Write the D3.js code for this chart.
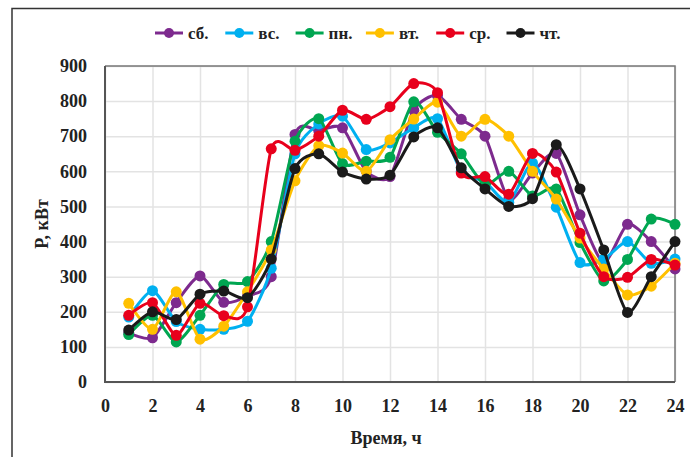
<!DOCTYPE html>
<html>
<head>
<meta charset="utf-8">
<script src="https://cdn.jsdelivr.net/npm/d3@7"></script>
<style>
  body { margin: 0; background: #fff; }
  text { font-family: "Liberation Serif", "Times New Roman", serif; font-weight: bold; fill: #222; }
</style>
</head>
<body>
<svg id="chart"></svg>
<script>
// hours of the day
const hours = d3.range(1, 25);

// power, kW, by day of week
const sat = [140,126,226,302,227,245,300,705,716,724,600,585,774,816,748,700,520,595,651,476,340,449,400,322];
const sun = [185,260,172,150,150,173,324,650,735,757,662,681,724,750,600,570,512,624,498,340,350,400,338,350];
const mon = [135,190,114,190,278,286,400,686,750,622,629,640,798,711,650,562,600,530,550,397,288,349,464,449];
const tue = [224,150,257,122,159,257,376,573,673,652,600,690,749,797,700,748,700,600,521,410,322,248,273,338];
const wed = [190,226,133,224,189,214,664,660,700,774,748,784,850,824,595,585,535,651,598,424,300,298,349,333];
const thu = [148,200,178,250,259,240,350,608,650,598,578,589,698,724,610,550,500,522,676,550,376,198,300,400];

const dayNames = ['сб.', 'вс.', 'пн.', 'вт.', 'ср.', 'чт.'];
const dayColors = ['#7d2a8e', '#00b0f0', '#00a651', '#ffc000', '#e8001c', '#1a1a1a'];
const xTicks = d3.range(0, 25, 2);
const yTicks = d3.range(0, 901, 100);

class LineChart {

  constructor(_config, _series) {
    this.config = {
      parentElement: _config.parentElement,
      containerWidth: _config.containerWidth || 690,
      containerHeight: _config.containerHeight || 457,
      margin: _config.margin || {top: 66, right: 15, bottom: 75, left: 105}
    }
    this.series = _series;
    this.initVis();
  }

  initVis() {
    let vis = this;

    vis.width = vis.config.containerWidth - vis.config.margin.left - vis.config.margin.right;
    vis.height = vis.config.containerHeight - vis.config.margin.top - vis.config.margin.bottom;

    vis.xScale = d3.scaleLinear()
        .domain([0, 24])
        .range([0, vis.width]);

    vis.yScale = d3.scaleLinear()
        .domain([0, 900])
        .range([vis.height, 0]);

    vis.svg = d3.select(vis.config.parentElement)
        .attr('width', vis.config.containerWidth)
        .attr('height', vis.config.containerHeight);

    // outer frame of the figure
    vis.svg.append('path')
        .attr('d', `M12,${vis.config.containerHeight} V8.5 H${vis.config.containerWidth}`)
        .attr('fill', 'none')
        .attr('stroke', '#333')
        .attr('stroke-width', 1.5);

    vis.chart = vis.svg.append('g')
        .attr('transform', `translate(${vis.config.margin.left},${vis.config.margin.top})`);

    // gridlines
    vis.chart.append('g')
        .attr('class', 'grid')
        .call(d3.axisLeft(vis.yScale).tickValues(yTicks).tickSize(-vis.width).tickFormat(''))
        .call(g => g.select('.domain').remove())
        .selectAll('line').attr('stroke', '#e3e3e3').attr('stroke-width', 1.5);

    vis.chart.append('g')
        .attr('class', 'grid')
        .attr('transform', `translate(0,${vis.height})`)
        .call(d3.axisBottom(vis.xScale).tickValues(xTicks).tickSize(-vis.height).tickFormat(''))
        .call(g => g.select('.domain').remove())
        .selectAll('line').attr('stroke', '#e3e3e3').attr('stroke-width', 1.5);

    // plot border
    vis.chart.append('path')
        .attr('d', `M0,0 H${vis.width} V${vis.height}`)
        .attr('fill', 'none')
        .attr('stroke', '#777')
        .attr('stroke-width', 1.5);

    vis.chart.append('path')
        .attr('d', `M0,0 V${vis.height} H${vis.width}`)
        .attr('fill', 'none')
        .attr('stroke', '#555')
        .attr('stroke-width', 2);

    // tick labels
    vis.xAxisG = vis.chart.append('g')
        .attr('transform', `translate(0,${vis.height})`)
        .call(d3.axisBottom(vis.xScale).tickValues(xTicks).tickSize(0).tickPadding(17));
    vis.xAxisG.select('.domain').remove();

    vis.yAxisG = vis.chart.append('g')
        .call(d3.axisLeft(vis.yScale).tickValues(yTicks).tickSize(0).tickPadding(18));
    vis.yAxisG.select('.domain').remove();

    vis.chart.selectAll('.tick text')
        .style('font-family', '"Liberation Serif", serif')
        .style('font-weight', 'bold')
        .style('font-size', '18px')
        .attr('fill', '#222');

    // axis titles
    vis.chart.append('text')
        .attr('text-anchor', 'middle')
        .attr('x', vis.width / 2 - 4)
        .attr('y', vis.height + 62)
        .style('font-size', '18px')
        .text('Время, ч');

    vis.chart.append('text')
        .attr('text-anchor', 'middle')
        .attr('transform', 'rotate(-90)')
        .attr('x', -(vis.yScale(450) + 0))
        .attr('y', -57)
        .style('font-size', '18px')
        .text('P, кВт');

    vis.updateVis();
  }

  updateVis() {
    let vis = this;
    // a bit of tension keeps the steep morning rise from overshooting too much
    vis.line = d3.line()
        .x((d, i) => vis.xScale(hours[i]))
        .y(d => vis.yScale(d))
        .curve(d3.curveCardinal.tension(0.3));
    vis.renderVis();
  }

  renderVis() {
    let vis = this;

    const groups = vis.chart.selectAll('.series')
        .data(vis.series)
        .enter()
      .append('g')
        .attr('class', 'series');

    groups.append('path')
        .attr('d', d => vis.line(d.values))
        .attr('fill', 'none')
        .attr('stroke', d => d.color)
        .attr('stroke-width', 3);

    groups.selectAll('circle')
        .data(d => d.values.map((v, i) => ({v: v, i: i, color: d.color})))
        .enter()
      .append('circle')
        .attr('cx', d => vis.xScale(hours[d.i]))
        .attr('cy', d => vis.yScale(d.v))
        .attr('r', 5.5)
        .attr('fill', d => d.color);

    // legend
    const legend = vis.svg.append('g')
        .attr('transform', 'translate(155,33)');

    const items = legend.selectAll('.legend-item')
        .data(vis.series)
        .enter()
      .append('g')
        .attr('class', 'legend-item')
        .attr('transform', (d, i) => `translate(${i * 70.3},0)`);

    items.append('line')
        .attr('x1', 0).attr('x2', 28)
        .attr('stroke', d => d.color)
        .attr('stroke-width', 3);

    items.append('circle')
        .attr('cx', 14)
        .attr('r', 5)
        .attr('fill', d => d.color);

    items.append('text')
        .attr('x', 33)
        .attr('dy', '0.35em')
        .style('font-size', '17px')
        .text(d => d.name);
  }
}

const seriesValues = [sat, sun, mon, tue, wed, thu];
const series = seriesValues.map((values, i) => ({name: dayNames[i], color: dayColors[i], values: values}));

new LineChart({parentElement: '#chart'}, series);
</script>
</body>
</html>
